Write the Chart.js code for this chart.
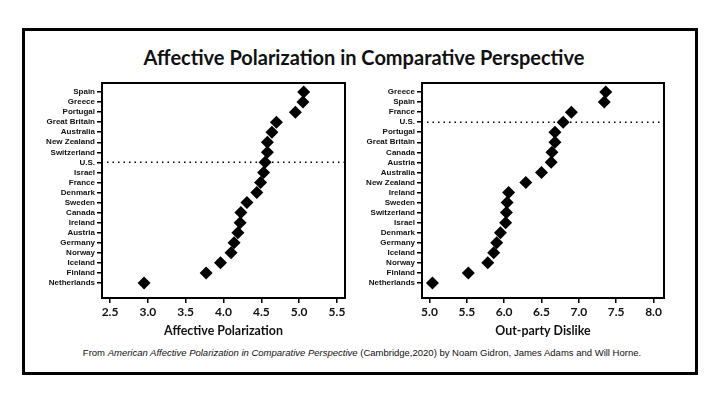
<!DOCTYPE html>
<html>
<head>
<meta charset="utf-8">
<script src="https://cdn.jsdelivr.net/npm/chart.js@4/dist/chart.umd.min.js"></script>
<style>
  html, body { margin: 0; padding: 0; background: #fff; }
  #page { position: relative; width: 719px; height: 395px; overflow: hidden; }
  #frame { position: absolute; left: 22px; top: 28px; width: 676px; height: 347px; border: 3px solid #000; box-sizing: border-box; }
  #title { position: absolute; left: 0; width: 728px; top: 45px; text-align: center; font: 700 20px Lato, sans-serif; color: #111; }
  #note { position: absolute; left: 0; width: 724px; top: 347px; text-align: center; font: 400 9.5px "Liberation Sans", Arial, sans-serif; color: #111; }
  canvas { position: absolute; }
  #leftChart { left: 25px; top: 72px; }
  #rightChart { left: 350px; top: 72px; }
</style>
</head>
<body>
<div id="page">
  <div id="frame"></div>
  <div id="title">Affective Polarization in Comparative Perspective</div>
  <canvas id="leftChart" width="335" height="266"></canvas>
  <canvas id="rightChart" width="340" height="266"></canvas>
  <div id="note">From <i>American Affective Polarization in Comparative Perspective</i> (Cambridge,2020) by Noam Gidron, James Adams and Will Horne.</div>
</div>
<script>
// Left panel: affective polarization
const leftCountries = ['Spain', 'Greece', 'Portugal', 'Great Britain', 'Australia', 'New Zealand', 'Switzerland', 'U.S.', 'Israel', 'France',
    'Denmark', 'Sweden', 'Canada', 'Ireland', 'Austria', 'Germany', 'Norway', 'Iceland', 'Finland', 'Netherlands'];
const leftValues = [5.06, 5.05, 4.95, 4.70, 4.64, 4.58, 4.58, 4.55, 4.53, 4.49,
    4.44, 4.31, 4.23, 4.22, 4.19, 4.14, 4.10, 3.96, 3.77, 2.95];
const leftTicks = [2.5, 3.0, 3.5, 4.0, 4.5, 5.0, 5.5];

// Right panel: out-party dislike
const rightCountries = ['Greece', 'Spain', 'France', 'U.S.', 'Portugal', 'Great Britain', 'Canada', 'Austria', 'Australia', 'New Zealand',
    'Ireland', 'Sweden', 'Switzerland', 'Israel', 'Denmark', 'Germany', 'Iceland', 'Norway', 'Finland', 'Netherlands'];
const rightValues = [7.36, 7.34, 6.90, 6.79, 6.68, 6.68, 6.64, 6.63, 6.50, 6.29,
    6.06, 6.04, 6.03, 6.02, 5.95, 5.90, 5.86, 5.78, 5.52, 5.04];
const rightTicks = [5.0, 5.5, 6.0, 6.5, 7.0, 7.5, 8.0];

const refCountry = 'U.S.';

// box round the plot + dotted reference line at the U.S. row
const framePlugin = {
    id: 'framePlugin',
    afterDatasetsDraw(chart, args, opts) {
        const ctx = chart.ctx;
        const a = chart.chartArea;
        const yPix = chart.scales.y.getPixelForValue(opts.refIndex);
        ctx.save();
        ctx.strokeStyle = '#000';
        ctx.lineWidth = 1.5;
        ctx.setLineDash([1.5, 4]);
        ctx.beginPath();
        ctx.moveTo(a.left + 5, yPix);
        ctx.lineTo(a.right, yPix);
        ctx.stroke();
        ctx.setLineDash([]);
        ctx.lineWidth = 2;
        ctx.strokeRect(a.left, a.top, a.right - a.left, a.bottom - a.top);
        ctx.restore();
    }
};

function makeChart(id, countries, values, ticks, xMin, xMax, yWidth, padRight, xTitle) {
    const ctx = document.getElementById(id).getContext('2d');
    return new Chart(ctx, {
        type: 'scatter',
        data: {
            datasets: [{
                data: values.map((v, i) => ({ x: v, y: i })),
                pointStyle: 'rectRot',
                pointRadius: 6.5,
                pointHoverRadius: 6.5,
                backgroundColor: '#000',
                borderColor: '#000',
                borderWidth: 0
            }]
        },
        options: {
            responsive: false,
            animation: false,
            events: [],
            layout: { padding: { top: 11, right: padRight, left: 0, bottom: 0 } },
            plugins: {
                legend: { display: false },
                tooltip: { enabled: false },
                framePlugin: { refIndex: countries.indexOf(refCountry) }
            },
            scales: {
                x: {
                    type: 'linear',
                    min: xMin,
                    max: xMax,
                    afterBuildTicks: s => { s.ticks = ticks.map(v => ({ value: v })); },
                    afterFit: s => { s.height = 40; },
                    grid: { display: true, drawOnChartArea: false, drawTicks: true, tickLength: 5, color: '#000', lineWidth: 1.5 },
                    border: { display: false },
                    ticks: {
                        padding: 2,
                        color: '#111',
                        font: { family: 'Lato', weight: 'bold', size: 12 },
                        callback: v => v.toFixed(1)
                    },
                    title: {
                        display: true,
                        text: xTitle,
                        color: '#111',
                        font: { family: 'Lato', weight: 'bold', size: 12.4 },
                        padding: { top: 4, bottom: 0 }
                    }
                },
                y: {
                    type: 'linear',
                    reverse: true,
                    min: -0.9,
                    max: 20.5,
                    afterBuildTicks: s => { s.ticks = countries.map((c, i) => ({ value: i })); },
                    afterFit: s => { s.width = yWidth; },
                    grid: { display: true, drawOnChartArea: false, drawTicks: true, tickLength: 5, color: '#000', lineWidth: 1.5 },
                    border: { display: false },
                    ticks: {
                        autoSkip: false,
                        padding: 2,
                        color: '#111',
                        font: { family: 'Liberation Sans', weight: 'bold', size: 8 },
                        callback: v => countries[v]
                    }
                }
            }
        },
        plugins: [framePlugin]
    });
}

makeChart('leftChart', leftCountries, leftValues, leftTicks, 2.394, 5.606, 77, 15, 'Affective Polarization');
makeChart('rightChart', rightCountries, rightValues, rightTicks, 4.90, 8.14, 72, 26, 'Out-party Dislike');
</script>
</body>
</html>
